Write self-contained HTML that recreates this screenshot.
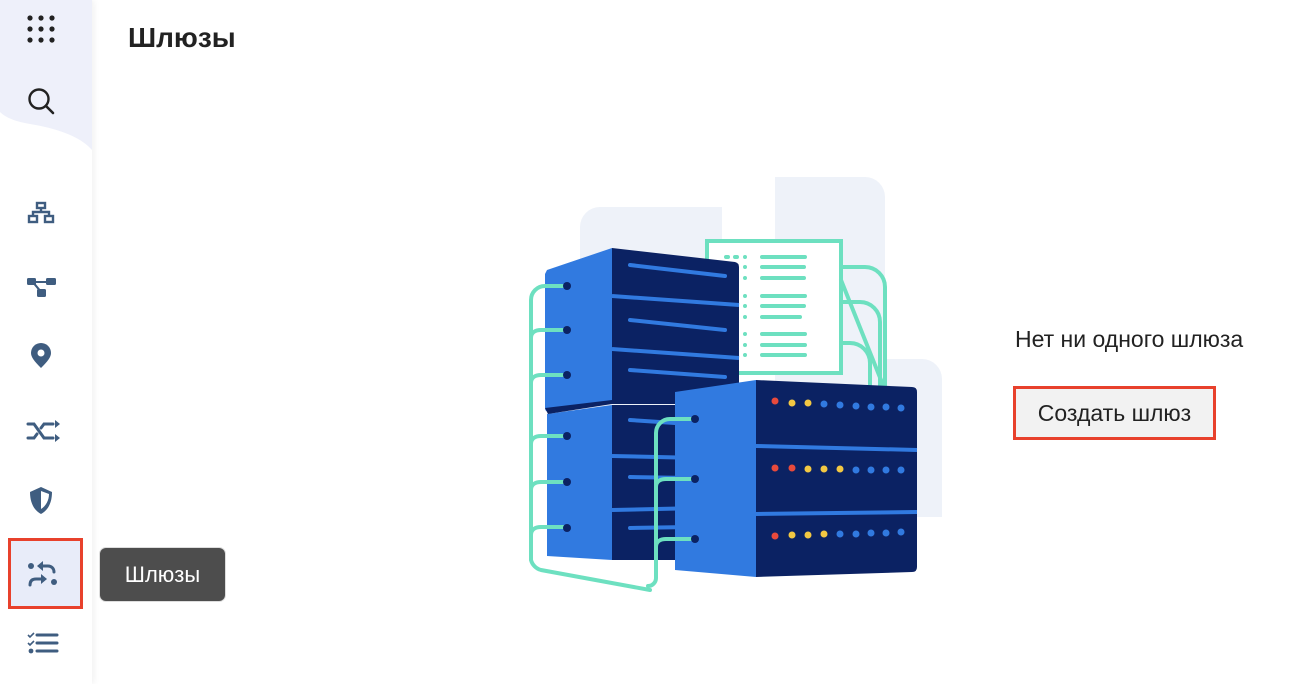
<!DOCTYPE html>
<html><head><meta charset="utf-8"><style>
body{margin:0;width:1310px;height:684px;overflow:hidden;background:#fff;font-family:"Liberation Sans","DejaVu Sans",sans-serif;position:relative}
.abs{position:absolute}
</style></head><body>
<div class="abs" style="left:0;top:0;width:92px;height:684px;background:#fff;box-shadow:2px 0 6px rgba(0,0,0,0.06)"></div>
<svg class="abs" style="left:0;top:0" width="93" height="684">
<path d="M0 0H92V150C80 136 55 128 30 124C12 121 4 116 0 112Z" fill="#eef0fa"/>
<rect x="9.5" y="539.5" width="72" height="68" fill="#e8ecf9" stroke="#e8412c" stroke-width="3"/>
<g fill="#222">
<circle cx="30" cy="18" r="2.6"/><circle cx="41" cy="18" r="2.6"/><circle cx="52" cy="18" r="2.6"/>
<circle cx="30" cy="29" r="2.6"/><circle cx="41" cy="29" r="2.6"/><circle cx="52" cy="29" r="2.6"/>
<circle cx="30" cy="40" r="2.6"/><circle cx="41" cy="40" r="2.6"/><circle cx="52" cy="40" r="2.6"/>
</g>
<circle cx="39" cy="99" r="9.5" fill="none" stroke="#222" stroke-width="2.4"/>
<line x1="46" y1="106" x2="53" y2="113" stroke="#222" stroke-width="2.6" stroke-linecap="round"/>
<g fill="none" stroke="#3f5d80" stroke-width="2.4">
<rect x="37" y="203" width="8" height="5"/><rect x="29" y="216" width="8" height="6"/><rect x="45" y="216" width="8" height="6"/>
<path d="M41 208V212M33 216V212H49V216"/>
</g>
<g fill="#3f5d80">
<rect x="27" y="278" width="9" height="7" rx="1.5"/><rect x="46" y="278" width="10" height="7" rx="1.5"/><rect x="37" y="289" width="9" height="8" rx="1.5"/>
<path d="M34 281h14v2H34zM35 283l5 6 -1.5 1.5 -5-6z"/>
<path d="M41 368C34 361 31 357 31 353a10 10 0 0 1 20 0c0 4-3 8-10 15z"/>
<circle cx="41" cy="353" r="3.5" fill="#fff"/>
<path d="M30 492L41 487L52 492C52 504 47 511 41 514C35 511 30 504 30 492Z"/>
</g>
<path d="M41 491V509C46 506 49 500 49 494Z" fill="#fff"/>
<g fill="none" stroke="#3f5d80" stroke-width="3" stroke-linecap="round">
<path d="M28 424h6l10 14h9M28 438h6l3-4M41 428l3-4h9"/>
<path d="M42 566h6c4 0 6 3 6 6"/><path d="M30 585c0-4 2-6 6-6h6"/><path d="M37 635h20M37 643h20M37 651h20"/>
</g>
<g fill="#3f5d80">
<path d="M55 420l5 4-5 4z"/><path d="M55 434l5 4-5 4z"/>
<circle cx="31" cy="566" r="3"/><circle cx="54" cy="582" r="3"/>
<path d="M37 566l6-5v10z"/><path d="M47 579l-6-5v10z"/>
<circle cx="31" cy="651" r="2.4"/>
</g>
<path d="M28 635l2 2 4-4M28 643l2 2 4-4" stroke="#3f5d80" stroke-width="1.6" fill="none"/>
</svg>
<div class="abs" style="left:128px;top:22px;font-size:28px;font-weight:bold;color:#222">Шлюзы</div>
<div class="abs" style="left:100px;top:548px;width:125px;height:53px;background:#4d4d4d;border-radius:6px;box-shadow:0 0 0 1px #ddd;color:#fff;font-size:22px;line-height:53px;text-align:center">Шлюзы</div>

<svg class="abs" style="left:0;top:0" width="1310" height="684">
<g fill="#eef2f9">
<path d="M600 207H722V520H580V227a20 20 0 0 1 20-20z"/>
<path d="M775 177H865a20 20 0 0 1 20 20V517H775z"/>
<path d="M885 359H922a20 20 0 0 1 20 20V517H885z"/>
</g>
<g fill="none" stroke="#6de0c0" stroke-width="4" stroke-linecap="round">
<rect x="707" y="241" width="134" height="132" fill="#fff"/>
<path d="M841 267H865a20 20 0 0 1 20 20V390M841 302H860a20 20 0 0 1 20 20V390M841 343H850a20 20 0 0 1 20 20V390M841 280L885 390"/>
<path d="M726 257h2M735 257h2M745 257v0M745 267v0M745 278v0M745 296v0M745 306v0M745 317v0M745 334v0M745 345v0M745 355v0"/>
<path d="M762 257h43M762 267h42M762 278h42M762 296h43M762 306h42M762 317h38M762 334h43M762 345h43M762 355h43"/>
</g>
<g>
<path d="M547 414L612 405V560L547 556Z" fill="#317ae0"/>
<path d="M612 405H700V560H612Z" fill="#0b2263"/>
<path d="M612 456L700 458M612 510L700 508" stroke="#317ae0" stroke-width="4"/>
<path d="M630 420L690 424M630 477L690 478M630 528L690 527" stroke="#317ae0" stroke-width="4" stroke-linecap="round"/>
<path d="M547 270L612 248V402L550 412Q545 412 545 408V274Z" fill="#317ae0"/>
<path d="M545 408L612 400H739V404H612L548 414Z" fill="#0b2263"/>
<path d="M612 248L735 262Q739 263 739 267V400H612Z" fill="#0b2263"/>
<path d="M612 296L739 305M612 349L739 358" stroke="#317ae0" stroke-width="4"/>
<path d="M630 265L725 276M630 320L725 330M630 370L725 377" stroke="#317ae0" stroke-width="4" stroke-linecap="round"/>
</g>
<g fill="none" stroke="#6de0c0" stroke-width="4" stroke-linecap="round">
<path d="M567 286H545a14 14 0 0 0-14 14V560a14 14 0 0 0 10 10L650 590"/>
<path d="M531 338c0-6 5-8 10-8h26M531 383c0-6 5-8 10-8h26M531 444c0-6 5-8 10-8h26M531 490c0-6 5-8 10-8h26M531 535c0-6 5-8 10-8h26"/>
</g>
<g fill="#0b2263"><circle cx="567" cy="286" r="4"/><circle cx="567" cy="330" r="4"/><circle cx="567" cy="375" r="4"/><circle cx="567" cy="436" r="4"/><circle cx="567" cy="482" r="4"/><circle cx="567" cy="528" r="4"/></g>
<g>
<path d="M675 392L756 380V577L675 570Z" fill="#317ae0"/>
<path d="M756 380L912 387Q917 387 917 392V567Q917 572 912 572L756 577Z" fill="#0b2263"/>
<path d="M756 446L917 450M756 514L917 512" stroke="#317ae0" stroke-width="4"/>
</g>
<g fill="none" stroke="#6de0c0" stroke-width="4" stroke-linecap="round">
<path d="M693 419H670a14 14 0 0 0-14 14V578a8 8 0 0 1-8 8"/>
<path d="M656 487c0-6 5-8 10-8h27M656 547c0-6 5-8 10-8h27"/>
</g>
<g fill="#0b2263"><circle cx="695" cy="419" r="4"/><circle cx="695" cy="479" r="4"/><circle cx="695" cy="539" r="4"/></g>
<g>
<circle cx="775" cy="401" r="3.5" fill="#e84a3c"/><circle cx="792" cy="403" r="3.5" fill="#f3c843"/><circle cx="808" cy="403" r="3.5" fill="#f3c843"/><circle cx="824" cy="404" r="3.5" fill="#317ae0"/><circle cx="840" cy="405" r="3.5" fill="#317ae0"/><circle cx="856" cy="406" r="3.5" fill="#317ae0"/><circle cx="871" cy="407" r="3.5" fill="#317ae0"/><circle cx="886" cy="407" r="3.5" fill="#317ae0"/><circle cx="901" cy="408" r="3.5" fill="#317ae0"/>
<circle cx="775" cy="468" r="3.5" fill="#e84a3c"/><circle cx="792" cy="468" r="3.5" fill="#e84a3c"/><circle cx="808" cy="469" r="3.5" fill="#f3c843"/><circle cx="824" cy="469" r="3.5" fill="#f3c843"/><circle cx="840" cy="469" r="3.5" fill="#f3c843"/><circle cx="856" cy="470" r="3.5" fill="#317ae0"/><circle cx="871" cy="470" r="3.5" fill="#317ae0"/><circle cx="886" cy="470" r="3.5" fill="#317ae0"/><circle cx="901" cy="470" r="3.5" fill="#317ae0"/>
<circle cx="775" cy="536" r="3.5" fill="#e84a3c"/><circle cx="792" cy="535" r="3.5" fill="#f3c843"/><circle cx="808" cy="535" r="3.5" fill="#f3c843"/><circle cx="824" cy="534" r="3.5" fill="#f3c843"/><circle cx="840" cy="534" r="3.5" fill="#317ae0"/><circle cx="856" cy="534" r="3.5" fill="#317ae0"/><circle cx="871" cy="533" r="3.5" fill="#317ae0"/><circle cx="886" cy="533" r="3.5" fill="#317ae0"/><circle cx="901" cy="532" r="3.5" fill="#317ae0"/>
</g>
</svg>

<div class="abs" style="left:1015px;top:326px;font-size:23px;color:#222;white-space:nowrap">Нет ни одного шлюза</div>
<div class="abs" style="left:1013px;top:386px;width:197px;height:48px;border:3px solid #e8412c;background:#f2f2f2;font-size:23px;color:#222;line-height:48px;text-align:center;white-space:nowrap">Создать шлюз</div>
</body></html>
